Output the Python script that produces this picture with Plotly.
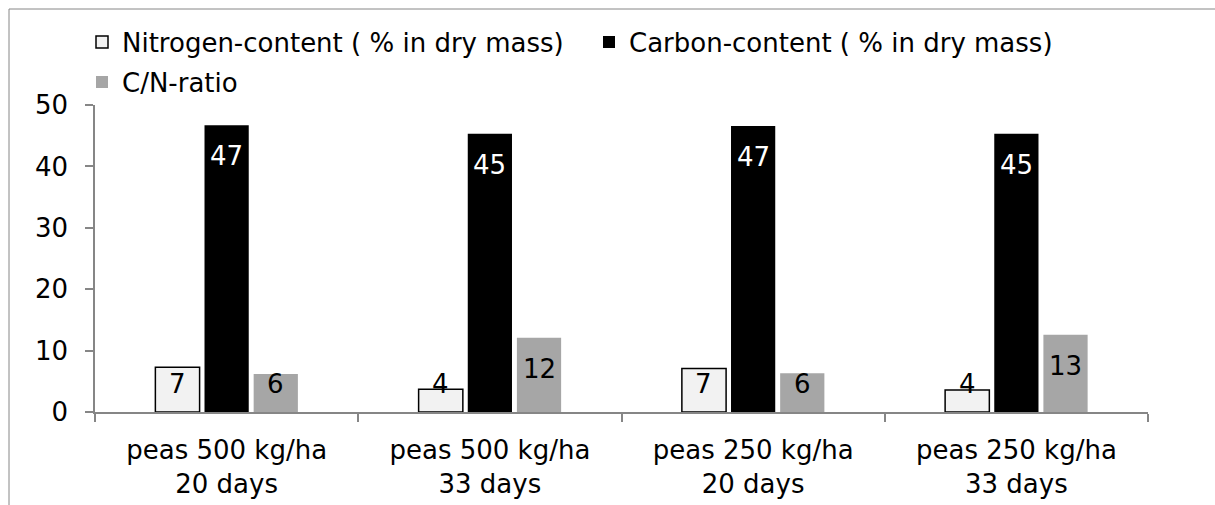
import plotly.graph_objects as go

# ---- data ----
categories = ["peas 500 kg/ha<br>20 days", "peas 500 kg/ha<br>33 days",
              "peas 250 kg/ha<br>20 days", "peas 250 kg/ha<br>33 days"]
nitrogen = [7.3, 3.7, 7.1, 3.6]
carbon = [46.7, 45.3, 46.6, 45.3]
cn_ratio = [6.2, 12.1, 6.3, 12.6]
series_names = ["Nitrogen-content ( % in dry mass)", "Carbon-content ( % in dry mass)", "C/N-ratio"]
y_ticks = [0, 10, 20, 30, 40, 50]

# ---- layout constants ----
W, H = 1215, 505
ML, MR, MT, MB = 95, 67, 105, 93
PW, PH = W - ML - MR, H - MT - MB
YMAX = 50
BARGAP, GROUPGAP = 0.44, 0.1
FONT = "DejaVu Sans"
FS = 26
AXIS_COLOR = "#868686"

series = [nitrogen, carbon, cn_ratio]
fills = ["#f2f2f2", "#000000", "#a6a6a6"]
lines = [dict(color="#000000", width=1.5), dict(width=0), dict(width=0)]
label_colors = ["#000000", "#ffffff", "#000000"]
legends = ["legend", "legend", "legend2"]

fig = go.Figure()
for vals, name, fill, ln, lg in zip(series, series_names, fills, lines, legends):
    fig.add_trace(go.Bar(x=categories, y=vals, name=name,
                         marker=dict(color=fill, line=ln), legend=lg))

# data labels, placed at the inside end of each bar
px_per_unit = PH / YMAX
slot = (1 - BARGAP) / len(series)
annotations = []
for k, vals in enumerate(series):
    for i, v in enumerate(vals):
        yc = max(v - 31 / px_per_unit, 28 / px_per_unit)
        annotations.append(dict(
            x=i + (k - 1) * slot, y=yc, xref="x", yref="y",
            text=f"{v:.0f}", showarrow=False, yanchor="middle", xanchor="center",
            font=dict(family=FONT, size=FS, color=label_colors[k])))

def px_to_paper_x(p):
    return (p - ML) / PW

def px_to_paper_y(p):
    return (H - MB - p) / PH

frame = dict(type="rect", xref="paper", yref="paper",
             x0=px_to_paper_x(9), x1=px_to_paper_x(W + 20),
             y0=px_to_paper_y(H + 20), y1=px_to_paper_y(9),
             line=dict(color=AXIS_COLOR, width=1), fillcolor="rgba(0,0,0,0)", layer="below")

fig.update_layout(
    width=W, height=H,
    margin=dict(l=ML, r=MR, t=MT, b=MB, autoexpand=False),
    paper_bgcolor="white", plot_bgcolor="white",
    barmode="group", bargap=BARGAP, bargroupgap=GROUPGAP,
    font=dict(family=FONT, size=FS, color="#000000"),
    showlegend=True,
    legend=dict(orientation="h", x=px_to_paper_x(82), xanchor="left",
                y=px_to_paper_y(42), yanchor="middle",
                entrywidth=462, entrywidthmode="pixels",
                font=dict(family=FONT, size=FS), bgcolor="rgba(0,0,0,0)"),
    legend2=dict(orientation="h", x=px_to_paper_x(82), xanchor="left",
                 y=px_to_paper_y(82), yanchor="middle",
                 font=dict(family=FONT, size=FS), bgcolor="rgba(0,0,0,0)"),
    annotations=annotations,
    shapes=[frame],
    xaxis=dict(showline=True, linecolor=AXIS_COLOR, linewidth=1.5,
               ticks="outside", tickson="boundaries", ticklen=8, tickcolor=AXIS_COLOR,
               tickwidth=1.5, showgrid=False, tickfont=dict(family=FONT, size=FS),
               ticklabelstandoff=14, fixedrange=True),
    yaxis=dict(range=[0, YMAX], tickvals=y_ticks, showline=True, linecolor=AXIS_COLOR,
               linewidth=1.5, ticks="outside", ticklen=8, tickcolor=AXIS_COLOR, tickwidth=1.5,
               showgrid=False, zeroline=False, tickfont=dict(family=FONT, size=FS),
               ticklabelstandoff=12, fixedrange=True),
)

fig.write_html("out.html", config={"displayModeBar": False},
               post_script="document.body.style.margin='0';document.body.style.overflow='hidden';")
